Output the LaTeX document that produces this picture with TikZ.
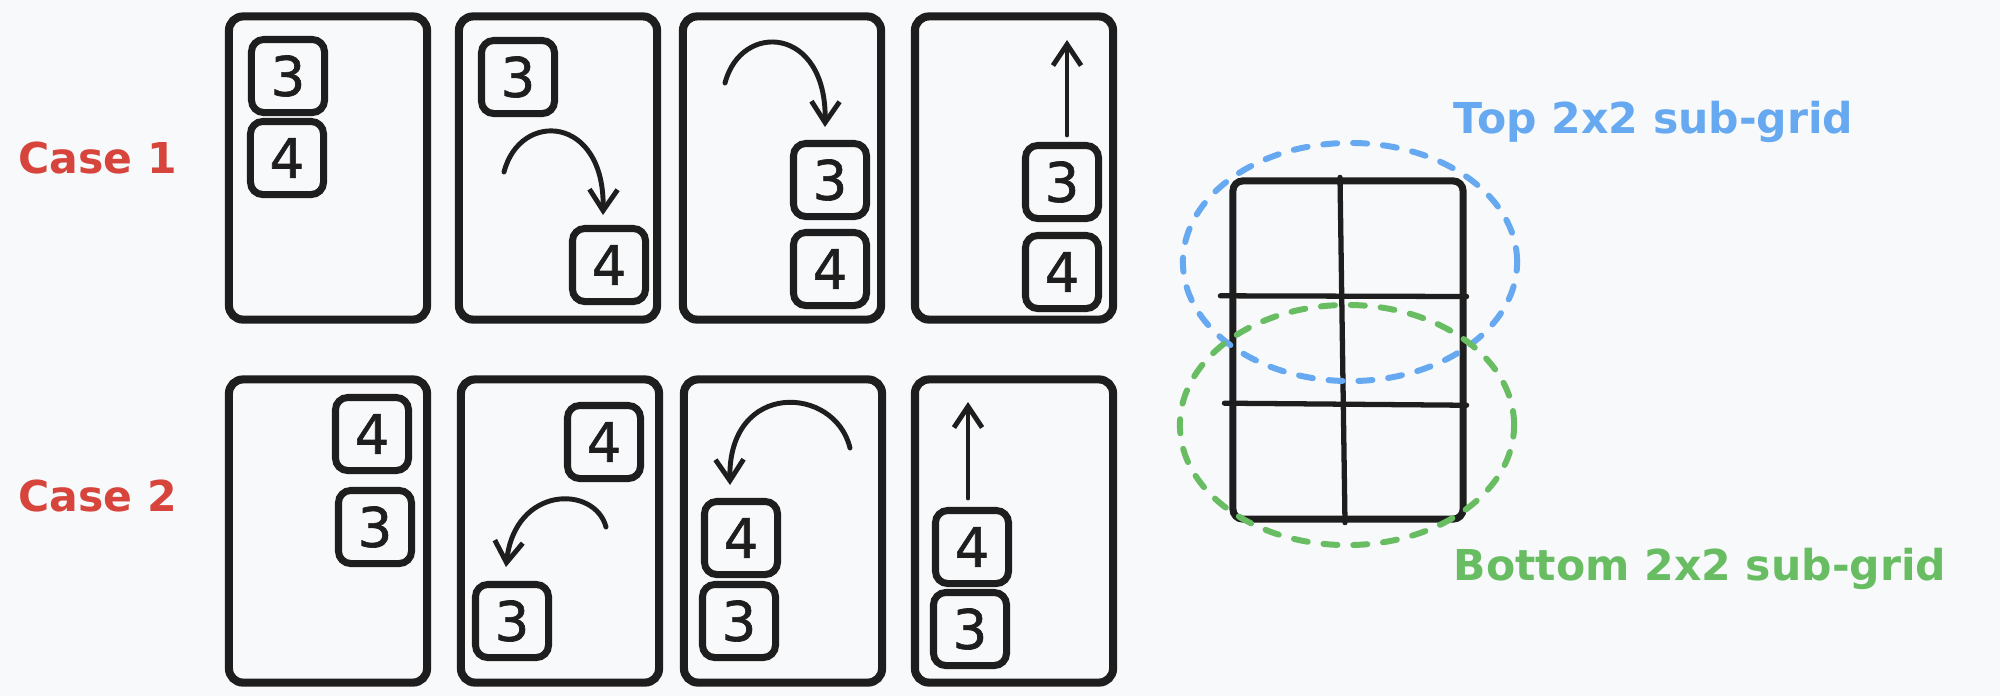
\documentclass[tikz,border=0pt]{standalone}
\usepackage{fontspec}
\setmainfont{DejaVu Sans}
\newfontfamily\tilefont[FakeBold=1.2]{DejaVu Sans}
\usetikzlibrary{arrows.meta,calc}

\definecolor{ink}{HTML}{1E1E1E}
\definecolor{paper}{HTML}{F8F9FA}
\definecolor{caseRed}{HTML}{D6443B}
\definecolor{gridBlue}{HTML}{66A9F0}
\definecolor{gridGreen}{HTML}{68BD62}

\tikzset{
  panel/.style={draw=ink, line width=2.3pt, rounded corners=4pt, minimum width=1.98cm, minimum height=3.03cm, inner sep=0pt},
  tile/.style={draw=ink, line width=2pt, rounded corners=3.5pt, minimum size=0.73cm, inner sep=0pt, text=ink, font=\tilefont\fontsize{15.5}{17}\selectfont},
  move/.style={draw=ink, line width=1.4pt, line cap=round, -{Straight Barb[length=6pt,width=8pt]}},
  caselabel/.style={anchor=base west, inner sep=0pt, text=caseRed, font=\bfseries\fontsize{12.1}{14}\selectfont},
  gridlabel/.style={anchor=base west, inner sep=0pt, font=\bfseries\fontsize{12.1}{14}\selectfont},
  gridbox/.style={draw=ink, line width=2pt, rounded corners=2.8pt, minimum width=2.30cm, minimum height=3.38cm, inner sep=0pt},
  cellline/.style={draw=ink, line width=1.5pt, line cap=round},
  subgrid/.style={line width=1.7pt, line cap=round, dash pattern=on 4pt off 4.5pt}
}

\begin{document}
\begin{tikzpicture}[x=0.01cm,y=-0.01cm]
  \fill[paper] (0,0) rectangle (2000,696);
  \useasboundingbox (0,0) rectangle (2000,696);

  % case labels
  \node[caselabel] (case1) at (18,173) {Case 1};
  \node[caselabel] (case2) at (18,511) {Case 2};

  % case 1: 3 on top of 4
  \node[panel] (c1p1) at (328,168) {};
  \node[panel] (c1p2) at (558,168) {};
  \node[panel] (c1p3) at (782,168) {};
  \node[panel] (c1p4) at (1014,168) {};
  \node[tile] (c1p1n3) at (288,76) {3};
  \node[tile] (c1p1n4) at (287,158) {4};
  \node[tile] (c1p2n3) at (518,77) {3};
  \node[tile] (c1p2n4) at (609,265) {4};
  \node[tile] (c1p3n3) at (830,180) {3};
  \node[tile] (c1p3n4) at (830,269) {4};
  \node[tile] (c1p4n3) at (1062,182) {3};
  \node[tile] (c1p4n4) at (1062,272) {4};
  \coordinate (c1p2from) at (504,172);
  \coordinate (c1p2to) at (603,215);
  \coordinate (c1p3from) at (725,83);
  \coordinate (c1p3to) at (825,127);
  \coordinate (c1p4from) at (1067,135);
  \coordinate (c1p4to) at (1067,40);
  \draw[move] (c1p2from) .. controls (520,110) and (605,115) .. (c1p2to);
  \draw[move] (c1p3from) .. controls (741,21) and (827,26) .. (c1p3to);
  \draw[move] (c1p4from) -- (c1p4to);

  % case 2: 4 on top of 3
  \node[panel] (c2p1) at (328,531) {};
  \node[panel] (c2p2) at (560,531) {};
  \node[panel] (c2p3) at (783,531) {};
  \node[panel] (c2p4) at (1014,531) {};
  \node[tile] (c2p1n4) at (372,434) {4};
  \node[tile] (c2p1n3) at (375,527) {3};
  \node[tile] (c2p2n4) at (604,442) {4};
  \node[tile] (c2p2n3) at (512,621) {3};
  \node[tile] (c2p3n4) at (741,538) {4};
  \node[tile] (c2p3n3) at (739,621) {3};
  \node[tile] (c2p4n4) at (972,547) {4};
  \node[tile] (c2p4n3) at (970,629) {3};
  \coordinate (c2p2from) at (606,527);
  \coordinate (c2p2to) at (506,567);
  \coordinate (c2p3from) at (850,448);
  \coordinate (c2p3to) at (730,485);
  \coordinate (c2p4from) at (968,498);
  \coordinate (c2p4to) at (968,402);
  \draw[move] (c2p2from) .. controls (595,485) and (515,485) .. (c2p2to);
  \draw[move] (c2p3from) .. controls (835,385) and (728,380) .. (c2p3to);
  \draw[move] (c2p4from) -- (c2p4to);

  % the 2x3 grid and its two sub-grids
  \node[gridbox] (grid) at (1348,350) {};
  \draw[cellline] ($(grid.north)+(-8,0)$) -- ($(grid.south)+(-3,0)$);
  \draw[cellline] ($(grid.north west)!0.343!(grid.south west)+(-9,0)$) -- ($(grid.north east)!0.345!(grid.south east)$);
  \draw[cellline] ($(grid.north west)!0.654!(grid.south west)+(-5,0)$) -- ($(grid.north east)!0.66!(grid.south east)$);
  \draw[subgrid, gridBlue] (1350,262) ellipse [x radius=1.67cm, y radius=1.19cm];
  \draw[subgrid, gridGreen] (1347,425) ellipse [x radius=1.67cm, y radius=1.20cm];
  \node[gridlabel, text=gridBlue] (toptext) at (1453,133) {Top 2x2 sub-grid};
  \node[gridlabel, text=gridGreen] (bottomtext) at (1453,580) {Bottom 2x2 sub-grid};
\end{tikzpicture}
\end{document}
